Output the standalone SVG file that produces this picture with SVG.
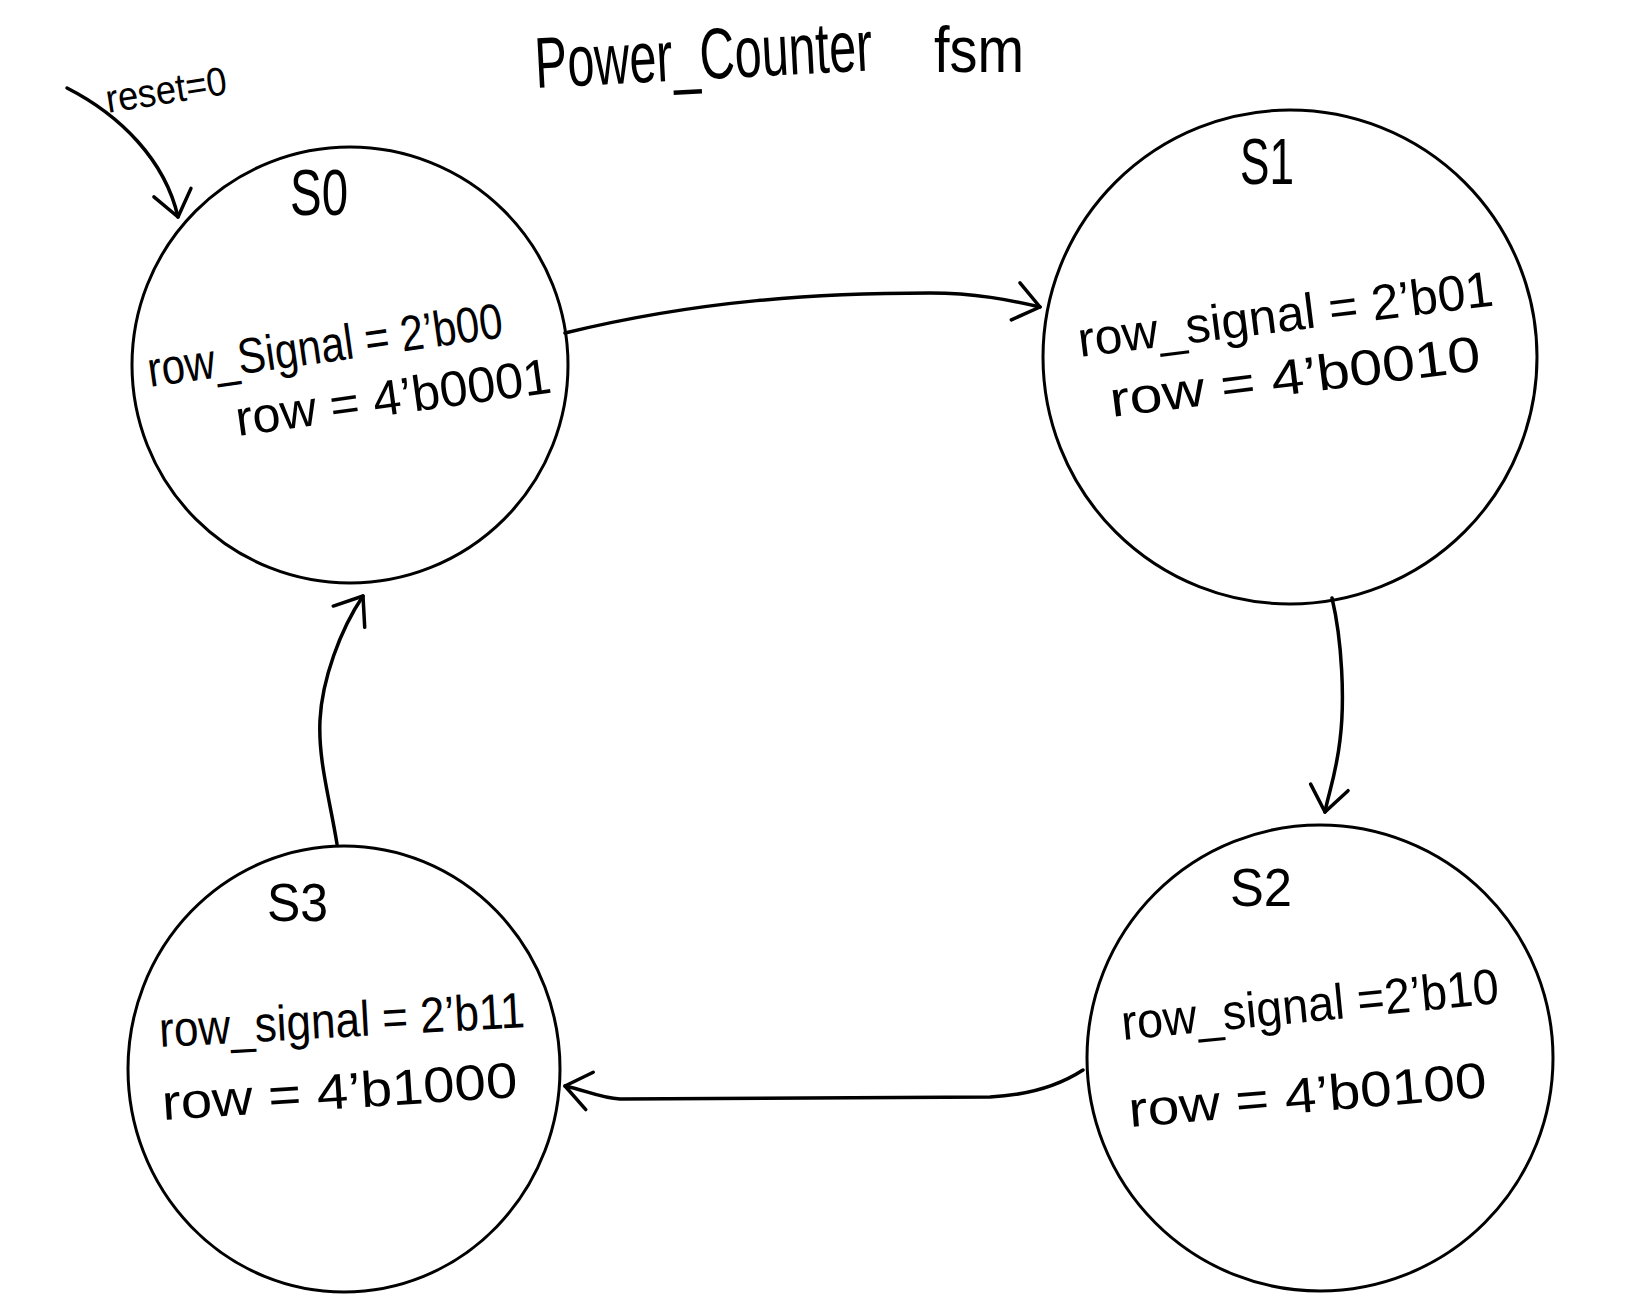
<svg xmlns="http://www.w3.org/2000/svg" width="1627" height="1302" viewBox="0 0 1627 1302">
<style>
.node{fill:none;stroke:#000;stroke-width:3}
.edge{fill:none;stroke:#000;stroke-width:3.5;stroke-linecap:round;stroke-linejoin:round}
.t{font-family:"Liberation Sans","DejaVu Sans",sans-serif;fill:#000}
.lbl{font-size:50px}
.st{font-size:64px}
</style>
<defs>
<marker id="ah" markerUnits="userSpaceOnUse" markerWidth="40" markerHeight="48" viewBox="-34 -24 40 48" refX="0" refY="0" orient="auto" overflow="visible">
<path d="M -25 -19 L 0 0 L -25 19" fill="none" stroke="#000" stroke-width="3.5" stroke-linecap="round" stroke-linejoin="round"/>
</marker>
</defs>
<rect x="0" y="0" width="1627" height="1302" fill="#fff"/>

<g id="title">
<text class="t" font-size="72" x="536" y="88" textLength="338" lengthAdjust="spacingAndGlyphs" transform="rotate(-3 536 88)">Power_Counter</text>
<text class="t" font-size="64" x="934" y="72" textLength="90" lengthAdjust="spacingAndGlyphs">fsm</text>
</g>

<g id="connectors">
<path id="e-reset" class="edge" d="M 67 88 C 120 115, 165 160, 178 217" marker-end="url(#ah)"/>
<text id="reset-label" class="t" font-size="40" x="108" y="113" textLength="122" lengthAdjust="spacingAndGlyphs" transform="rotate(-9 108 113)">reset=0</text>
<path id="e-s0-s1" class="edge" d="M 565 333 C 700 300, 820 293, 930 293 C 975 293, 1010 300, 1040 307" marker-end="url(#ah)"/>
<path id="e-s1-s2" class="edge" d="M 1332 598 C 1342 640, 1345 700, 1340 740 C 1336 775, 1328 795, 1325 812" marker-end="url(#ah)"/>
<path id="e-s2-s3" class="edge" d="M 1083 1070 C 1060 1085, 1030 1095, 990 1097 L 620 1099 C 600 1098, 585 1090, 565 1086" marker-end="url(#ah)"/>
<path id="e-s3-s0" class="edge" d="M 337 844 C 330 800, 318 760, 320 720 C 322 680, 340 630, 363 596" marker-end="url(#ah)"/>
</g>

<g id="S0">
<circle class="node" cx="350" cy="365" r="218"/>
<text class="t st" x="290" y="215" textLength="58" lengthAdjust="spacingAndGlyphs">S0</text>
<text class="t lbl" x="150" y="387" textLength="358" lengthAdjust="spacingAndGlyphs" transform="rotate(-8 150 387)">row_Signal = 2’b00</text>
<text class="t lbl" x="238" y="436" textLength="318" lengthAdjust="spacingAndGlyphs" transform="rotate(-7.9 238 436)">row = 4’b0001</text>
</g>

<g id="S1">
<circle class="node" cx="1290" cy="357" r="247"/>
<text class="t st" x="1240" y="184" textLength="54" lengthAdjust="spacingAndGlyphs">S1</text>
<text class="t lbl" x="1080" y="357" textLength="418" lengthAdjust="spacingAndGlyphs" transform="rotate(-7.1 1080 357)">row_signal = 2’b01</text>
<text class="t lbl" x="1112" y="417" textLength="373" lengthAdjust="spacingAndGlyphs" transform="rotate(-7.2 1112 417)">row = 4’b0010</text>
</g>

<g id="S2">
<circle class="node" cx="1320" cy="1058" r="233"/>
<text class="t" font-size="54" x="1230" y="906" textLength="62" lengthAdjust="spacingAndGlyphs">S2</text>
<text class="t lbl" x="1123" y="1040" textLength="379" lengthAdjust="spacingAndGlyphs" transform="rotate(-5.6 1123 1040)">row_signal =2’b10</text>
<text class="t lbl" x="1130" y="1127" textLength="359" lengthAdjust="spacingAndGlyphs" transform="rotate(-4.8 1130 1127)">row = 4’b0100</text>
</g>

<g id="S3">
<ellipse class="node" cx="344" cy="1069" rx="216" ry="223"/>
<text class="t" font-size="54" x="267" y="921" textLength="61" lengthAdjust="spacingAndGlyphs">S3</text>
<text class="t lbl" x="160" y="1047" textLength="366" lengthAdjust="spacingAndGlyphs" transform="rotate(-3.1 160 1047)">row_signal = 2’b11</text>
<text class="t lbl" x="163" y="1120" textLength="356" lengthAdjust="spacingAndGlyphs" transform="rotate(-3.7 163 1120)">row = 4’b1000</text>
</g>
</svg>
